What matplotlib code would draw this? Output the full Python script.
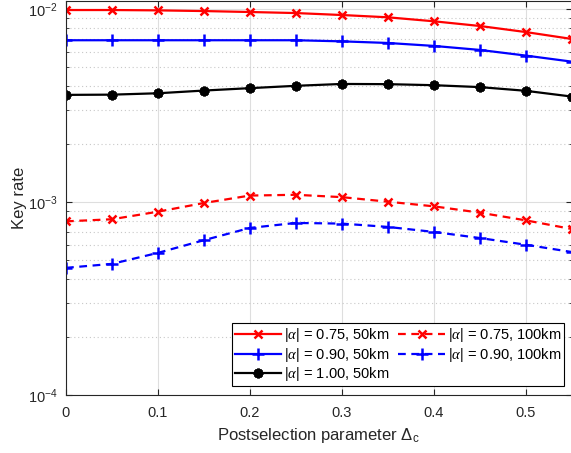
import numpy as np
import matplotlib
matplotlib.use('Agg')
import matplotlib.pyplot as plt
from matplotlib.ticker import LogLocator, NullFormatter

plt.rcParams['font.family'] = 'Liberation Sans'
plt.rcParams['mathtext.fontset'] = 'custom'
plt.rcParams['mathtext.rm'] = 'Liberation Sans'
plt.rcParams['mathtext.it'] = 'Liberation Serif:italic'

# postselection parameter values
delta_c = [0, 0.05, 0.10, 0.15, 0.20, 0.25, 0.30, 0.35, 0.40, 0.45, 0.50, 0.55]

# key rates
rate_075_50 = [0.00988, 0.00988, 0.00984, 0.00976, 0.00965, 0.00953,
               0.00931, 0.00906, 0.00864, 0.00817, 0.00760, 0.00700]
rate_090_50 = [0.00689, 0.00689, 0.00689, 0.00689, 0.00689, 0.00689,
               0.00680, 0.00667, 0.00644, 0.00614, 0.00574, 0.00534]
rate_100_50 = [0.00359, 0.00360, 0.00366, 0.00378, 0.00389, 0.00400,
               0.00409, 0.00408, 0.00403, 0.00394, 0.00377, 0.00352]
rate_075_100 = [0.000794, 0.000814, 0.000891, 0.000988, 0.00108, 0.00109,
                0.00106, 0.001004, 0.000950, 0.000881, 0.000804, 0.000725]
rate_090_100 = [0.000456, 0.000478, 0.000545, 0.000634, 0.000734, 0.000779,
                0.000773, 0.000743, 0.000700, 0.000651, 0.000601, 0.000551]

W, H = 571, 453
fig = plt.figure(figsize=(W / 100, H / 100), dpi=100)
ax = fig.add_axes([66 / W, (H - 395) / H, 505.5 / W, 394.5 / H])

lw = 1.6
ms = 6
asterisk = (8, 2, 0)

ax.plot(delta_c, rate_075_50, '-', color='r', lw=lw, marker='x', ms=ms, mew=1.8,
        label=r'$|\alpha|$ = 0.75, 50km')
ax.plot(delta_c, rate_090_50, '-', color='b', lw=lw, marker='+', ms=ms + 2, mew=1.8,
        label=r'$|\alpha|$ = 0.90, 50km')
ax.plot(delta_c, rate_100_50, '-', color='k', lw=lw, marker=asterisk, ms=ms + 1, mew=2.0,
        label=r'$|\alpha|$ = 1.00, 50km')
ax.plot(delta_c, rate_075_100, color='r', lw=lw, marker='x', ms=ms, mew=1.8,
        dashes=(3.5, 2.5), label=r'$|\alpha|$ = 0.75, 100km')
ax.plot(delta_c, rate_090_100, color='b', lw=lw, marker='+', ms=ms + 2, mew=1.8,
        dashes=(3.5, 2.5), label=r'$|\alpha|$ = 0.90, 100km')

ax.set_yscale('log')
ax.set_xlim(0, 0.55)
ax.set_ylim(1e-4, 0.01107)
ax.set_xticks([0, 0.1, 0.2, 0.3, 0.4, 0.5])
ax.set_xticklabels(['0', '0.1', '0.2', '0.3', '0.4', '0.5'])
ax.yaxis.set_major_locator(LogLocator(base=10, numticks=10))
ax.yaxis.set_minor_locator(LogLocator(base=10, subs=np.arange(2, 10), numticks=20))
ax.yaxis.set_minor_formatter(NullFormatter())

axis_col = '#262626'
for sp in ax.spines.values():
    sp.set_color(axis_col)
    sp.set_linewidth(0.8)
ax.tick_params(which='both', direction='in', top=True, right=True, colors=axis_col,
               labelsize=10.5)
ax.tick_params(which='major', length=4, width=0.8)
ax.tick_params(which='minor', length=2.5, width=0.6)
ax.tick_params(axis='x', pad=8)
ax.tick_params(axis='y', pad=6)

ax.grid(True, which='major', color='#dedede', lw=0.8, ls='-')
ax.grid(True, which='minor', axis='y', color='#c8c8c8', lw=0.8, ls=(0, (1, 2.5)))
ax.set_axisbelow(True)

ax.set_xlabel(r'Postselection parameter $\Delta_{\mathrm{c}}$', fontsize=12, color=axis_col)
ax.set_ylabel('Key rate', fontsize=12, color=axis_col, labelpad=1)

leg = ax.legend(ncol=2, loc='lower right', bbox_to_anchor=(0.986, 0.0228),
                borderaxespad=0, fontsize=10.5, handlelength=3.2, handletextpad=0.2,
                columnspacing=0.6, labelspacing=0.1, borderpad=0.2,
                fancybox=False, framealpha=1, edgecolor='k')
leg.get_frame().set_linewidth(0.8)

fig.savefig('out.png', dpi=100)
